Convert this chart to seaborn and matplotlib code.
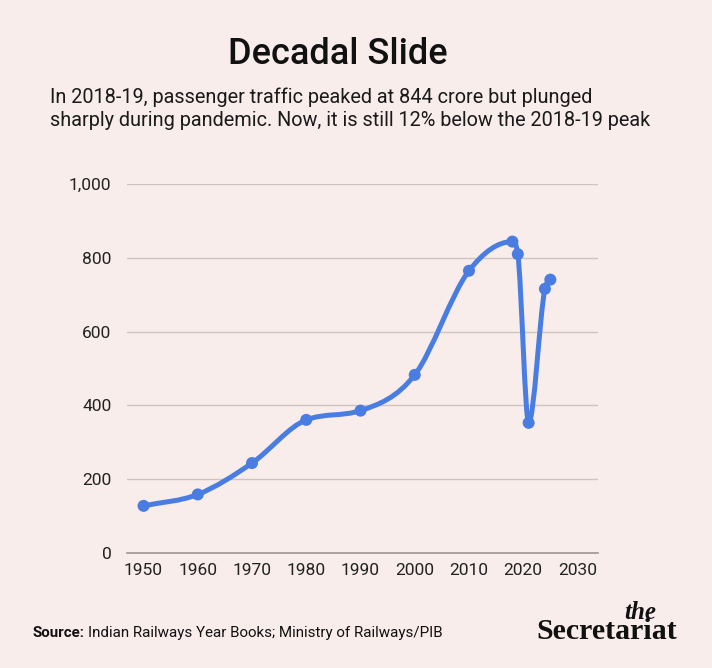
import numpy as np
import seaborn as sns
import matplotlib
matplotlib.use("Agg")
from matplotlib import pyplot as plt
from matplotlib.path import Path
from matplotlib.patches import PathPatch

# passenger traffic, crore
years = [1950, 1960, 1970, 1980, 1990, 2000, 2010, 2018, 2019, 2021, 2024, 2025]
traffic = [128, 159, 244, 361, 386, 483, 765, 844, 810, 353, 716, 741]
y_ticks = [0, 200, 400, 600, 800, 1000]
x_ticks = [1950, 1960, 1970, 1980, 1990, 2000, 2010, 2020, 2030]

bg = "#F8EDEB"
blue = "#4A7DE2"


def monotone_path(xs, ys):
    # monotone cubic bezier through the points (Fritsch-Carlson)
    xs = np.asarray(xs, float)
    ys = np.asarray(ys, float)
    n = len(xs)
    d = np.diff(ys) / np.diff(xs)
    m = np.zeros(n)
    m[0] = d[0]
    m[-1] = d[-1]
    for i in range(1, n - 1):
        m[i] = 0 if d[i - 1] * d[i] <= 0 else (d[i - 1] + d[i]) / 2
    for i in range(n - 1):
        if d[i] == 0:
            m[i] = m[i + 1] = 0
            continue
        a = m[i] / d[i]
        b = m[i + 1] / d[i]
        s = a * a + b * b
        if s > 9:
            t = 3 / np.sqrt(s)
            m[i] = a * t * d[i]
            m[i + 1] = b * t * d[i]
    verts = [(xs[0], ys[0])]
    codes = [Path.MOVETO]
    for i in range(n - 1):
        dx = (xs[i + 1] - xs[i]) / 3
        verts += [(xs[i] + dx, ys[i] + m[i] * dx),
                  (xs[i + 1] - dx, ys[i + 1] - m[i + 1] * dx),
                  (xs[i + 1], ys[i + 1])]
        codes += [Path.CURVE4] * 3
    return Path(verts, codes)


sns.set_theme(style="white")
plt.rcParams["font.family"] = ["Roboto", "DejaVu Sans"]

fig = plt.figure(figsize=(7.12, 6.68), dpi=100, facecolor=bg)
ax = fig.add_axes([0.178, 0.172, 0.662, 0.5525])
ax.set_facecolor(bg)

ax.add_patch(PathPatch(monotone_path(years, traffic), fill=False,
                       edgecolor=blue, lw=3.6, capstyle="round",
                       joinstyle="round", zorder=3))
sns.scatterplot(x=years, y=traffic, ax=ax, s=75, color=blue,
                edgecolor="none", zorder=4, clip_on=False)

ax.set_xlim(1946.9, 2033.8)
ax.set_ylim(0, 1000)
ax.set_xticks(x_ticks)
ax.set_yticks(y_ticks)
ax.set_yticklabels([f"{v:,}" for v in y_ticks])
ax.grid(axis="y", color="#CFC3C1", lw=1)
ax.set_axisbelow(True)
for side in ["top", "right", "left"]:
    ax.spines[side].set_visible(False)
ax.spines["bottom"].set_color("#9E9594")
ax.spines["bottom"].set_linewidth(1.2)
ax.tick_params(axis="both", length=0, labelsize=12.5, colors="#222222")
ax.tick_params(axis="y", pad=11)
ax.tick_params(axis="x", pad=7)

fig.text(0.474, 1 - 55 / 668, "Decadal Slide", ha="center", va="center",
         fontsize=26, fontweight="medium", color="#111111")
fig.text(0.070, 1 - 97 / 668,
         "In 2018-19, passenger traffic peaked at 844 crore but plunged",
         ha="left", va="center", fontsize=14.3, color="#1a1a1a")
fig.text(0.070, 1 - 120 / 668,
         "sharply during pandemic. Now, it is still 12% below the 2018-19 peak",
         ha="left", va="center", fontsize=14.3, color="#1a1a1a")

src = fig.text(0.045, 1 - 633 / 668, "Source:", ha="left", va="center",
               fontsize=10.9, fontweight="bold", color="#111111")
ax.annotate("Indian Railways Year Books; Ministry of Railways/PIB",
            xy=(1, 0.5), xycoords=src, xytext=(3, 0),
            textcoords="offset points", ha="left", va="center",
            fontsize=10.9, color="#111111", annotation_clip=False)

fig.text(656 / 712, 1 - 619 / 668, "the", ha="right", va="baseline",
         fontsize=18, fontstyle="italic", fontweight="bold",
         family=["Liberation Serif", "DejaVu Serif"], color="#111111")
fig.text(677 / 712, 1 - 639 / 668, "Secretariat", ha="right", va="baseline",
         fontsize=21.5, fontweight="bold",
         family=["Liberation Serif", "DejaVu Serif"], color="#111111")

fig.savefig("out.png", dpi=100, facecolor=bg)
